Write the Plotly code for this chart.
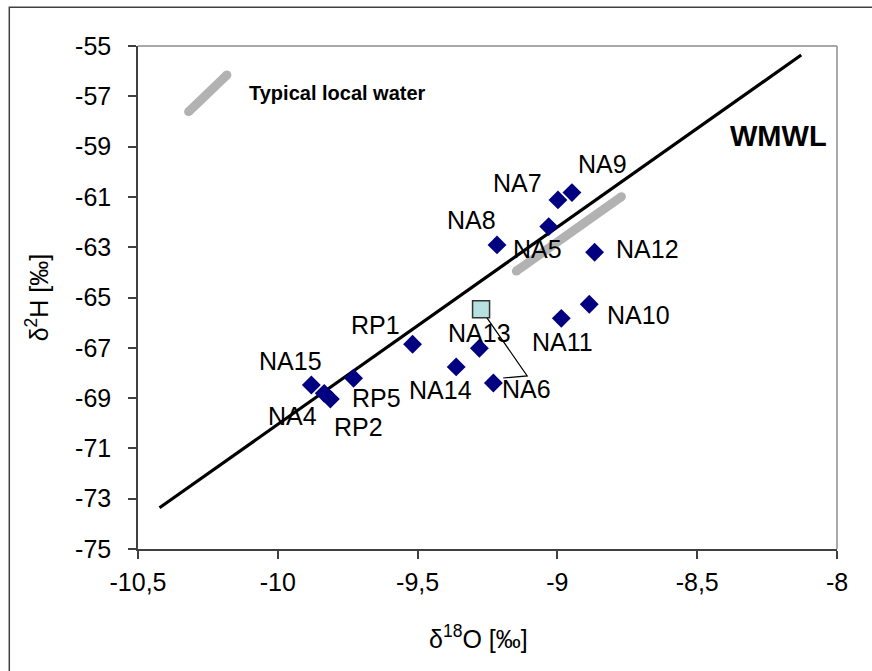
import plotly.graph_objects as go

# ---- data ----
sample_names = ["NA15", "NA4", "RP2", "RP5", "RP1", "NA14", "NA13", "NA6",
                "NA8", "NA5", "NA7", "NA9", "NA12", "NA10", "NA11"]
d18O = [-9.880, -9.834, -9.812, -9.729, -9.518, -9.362, -9.279, -9.229,
        -9.216, -9.031, -8.998, -8.948, -8.867, -8.886, -8.986]
d2H = [-68.48, -68.81, -69.04, -68.21, -66.86, -67.76, -67.02, -68.40,
       -62.91, -62.18, -61.12, -60.83, -63.20, -65.27, -65.83]

square_x = [-9.273]
square_y = [-65.47]

wmwl_x = [-10.423, -8.128]
wmwl_y = [-73.36, -55.36]

local_water_x = [-9.147, -8.771]
local_water_y = [-63.95, -60.99]

legend_key_x = [-10.319, -10.182]
legend_key_y = [-57.61, -56.15]

leader_x = [-9.273, -9.108, -9.194]
leader_y = [-65.47, -68.12, -68.20]

x_ticks = [-10.5, -10, -9.5, -9, -8.5, -8]
x_ticklabels = ["-10,5", "-10", "-9,5", "-9", "-8,5", "-8"]
y_ticks = [-75, -73, -71, -69, -67, -65, -63, -61, -59, -57, -55]
y_ticklabels = [str(v) for v in y_ticks]

# label pixel offsets (dx right, dy down) relative to each point
label_offsets = {
    "NA15": (-21, -25), "NA4": (-32, 22), "RP2": (28, 27), "RP5": (23, 19),
    "RP1": (-37, -20), "NA14": (-16, 22), "NA13": (0, -16), "NA6": (33, 5),
    "NA8": (-26, -26), "NA5": (-11, 21), "NA7": (-40, -18), "NA9": (31, -30),
    "NA12": (53, -4), "NA10": (49, 10), "NA11": (1, 23),
}

FONT = "Liberation Sans, Arial, sans-serif"
GRAY = "#b2b2b2"

fig = go.Figure()

# WMWL line
fig.add_trace(go.Scatter(x=wmwl_x, y=wmwl_y, mode="lines",
                         line=dict(color="black", width=3.2), hoverinfo="skip"))

# typical local water segments (round caps via end markers)
for xs, ys in [(local_water_x, local_water_y), (legend_key_x, legend_key_y)]:
    fig.add_trace(go.Scatter(x=xs, y=ys, mode="lines+markers",
                             line=dict(color=GRAY, width=9),
                             marker=dict(color=GRAY, size=9, line=dict(width=0)),
                             hoverinfo="skip"))

# leader line
fig.add_trace(go.Scatter(x=leader_x, y=leader_y, mode="lines",
                         line=dict(color="black", width=1.2), hoverinfo="skip"))

# samples
fig.add_trace(go.Scatter(x=d18O, y=d2H, mode="markers",
                         marker=dict(symbol="diamond", color="#000080", size=14.5,
                                     line=dict(width=0)),
                         text=sample_names))

# square sample
fig.add_trace(go.Scatter(x=square_x, y=square_y, mode="markers",
                         marker=dict(symbol="square", color="#b7e0e0", size=17,
                                     line=dict(color="#333333", width=1.5))))

annotations = []
for name, x, y in zip(sample_names, d18O, d2H):
    dx, dy = label_offsets[name]
    annotations.append(dict(x=x, y=y, xref="x", yref="y", text=name, showarrow=False,
                            xshift=dx, yshift=-dy - 1, xanchor="center", yanchor="middle",
                            font=dict(family=FONT, size=25, color="black")))

annotations.append(dict(x=-9.787, y=-56.85, xref="x", yref="y", showarrow=False,
                        text="<b>Typical local water</b>", xanchor="center", yanchor="middle",
                        font=dict(family=FONT, size=20, color="black")))
annotations.append(dict(x=-8.2075, y=-58.59, xref="x", yref="y", showarrow=False,
                        text="<b>WMWL</b>", xanchor="center", yanchor="middle",
                        font=dict(family=FONT, size=29, color="black")))
annotations.append(dict(x=0.4868, y=-0.175, xref="paper", yref="paper", showarrow=False,
                        text="δ<sup>18</sup>O [‰]", xanchor="center", yanchor="middle",
                        font=dict(family=FONT, size=25, color="black")))
annotations.append(dict(x=-0.144, y=0.501, xref="paper", yref="paper", showarrow=False,
                        text="δ<sup>2</sup>H [‰]", textangle=-90,
                        xanchor="center", yanchor="middle",
                        font=dict(family=FONT, size=25, color="black")))

L, R, T, B = 137.7, 836.7, 46.0, 549.0
W, H = 872, 671
pw, ph = R - L, B - T

def px2paper(px, py):
    return (px - L) / pw, (B - py) / ph

fx0, fy0 = px2paper(9, 7.3)
fx1, fy1 = px2paper(890, 690)

shapes = [
    # outer chart frame
    dict(type="rect", xref="paper", yref="paper", x0=fx0, y0=fy1, x1=fx1, y1=fy0,
         line=dict(color="#404040", width=1.5), layer="below"),
    # plot area top & right gray border
    dict(type="line", xref="paper", yref="paper", x0=0, y0=1, x1=1, y1=1,
         line=dict(color="#8c8c8c", width=1.5), layer="below"),
    dict(type="line", xref="paper", yref="paper", x0=1, y0=0, x1=1, y1=1,
         line=dict(color="#8c8c8c", width=1.5), layer="below"),
]

fig.update_layout(
    width=W, height=H,
    margin=dict(l=L, r=W - R, t=T, b=H - B, pad=0),
    paper_bgcolor="white", plot_bgcolor="white",
    showlegend=False,
    separators=",.",
    annotations=annotations,
    shapes=shapes,
    font=dict(family=FONT, size=25, color="black"),
)
fig.update_xaxes(range=[-10.5, -8], tickvals=x_ticks, ticktext=x_ticklabels,
                 showgrid=False, zeroline=False, showline=True, linecolor="#404040",
                 linewidth=1.5, ticks="outside", ticklen=8, tickwidth=1.5,
                 tickcolor="#404040", tickfont=dict(family=FONT, size=25, color="black"),
                 ticklabelstandoff=2)
fig.update_yaxes(range=[-75, -55], tickvals=y_ticks, ticktext=y_ticklabels,
                 showgrid=False, zeroline=False, showline=True, linecolor="#404040",
                 linewidth=1.5, ticks="outside", ticklen=8, tickwidth=1.5,
                 tickcolor="#404040", tickfont=dict(family=FONT, size=25, color="black"),
                 ticklabelstandoff=12)

fig.write_html("out.html", config={"displayModeBar": False},
               post_script="document.body.style.margin='0';document.body.style.overflow='hidden';")
